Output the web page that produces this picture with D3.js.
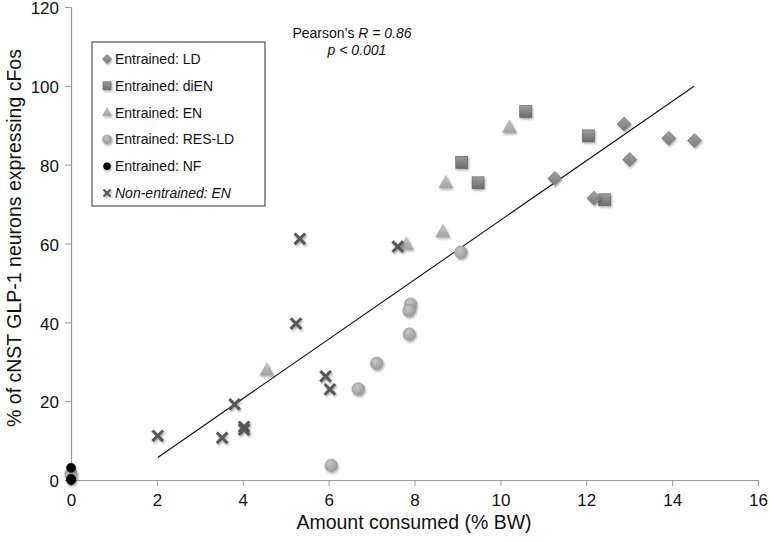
<!DOCTYPE html>
<html><head><meta charset="utf-8">
<script src="https://cdn.jsdelivr.net/npm/d3@7"></script>
<style>body{margin:0;background:#fff}svg{display:block}text{font-family:"Liberation Sans",Arial,Helvetica,sans-serif}</style>
</head><body><svg id="c" width="769" height="542"></svg>
<script>
// ---- data ----
const xTicks = [0,2,4,6,8,10,12,14,16];
const yTicks = [0,20,40,60,80,100,120];
const seriesNames = ["Entrained: LD","Entrained: diEN","Entrained: EN","Entrained: RES-LD","Entrained: NF","Non-entrained: EN"];
const ldX = [11.27,12.18,12.88,13.92,14.52,13.01];
const ldY = [76.5,71.5,90.3,86.7,86.1,81.3];
const dienX = [10.59,12.05,9.10,9.48,12.43];
const dienY = [93.5,87.3,80.6,75.4,71.1];
const enX = [10.21,8.73,8.66,7.81,4.56];
const enY = [89.4,75.3,62.9,59.7,27.8];
const resX = [7.91,7.87,7.88,7.12,6.69,6.06,9.08,0];
const resY = [44.6,43.0,37.0,29.6,23.1,3.7,57.8,1.5];
const nfX = [0,0,0];
const nfY = [3.1,0.3,0];
const nonX = [5.33,7.61,5.24,5.93,6.03,3.81,4.03,4.03,3.52,2.02];
const nonY = [61.2,59.2,39.7,26.3,23.0,19.2,13.5,12.8,10.7,11.2];
const fitX = [2.02,14.51];
const fitY = [5.7,99.9];

const svg = d3.select("#c");
const x = d3.scaleLinear().domain([0,16]).range([71,758]);
const y = d3.scaleLinear().domain([0,120]).range([480,7]);

const defs = svg.append("defs");
const f = defs.append("filter").attr("id","sh").attr("x","-50%").attr("y","-50%").attr("width","200%").attr("height","200%");
f.append("feDropShadow").attr("dx",1).attr("dy",1.5).attr("stdDeviation",1.2).attr("flood-color","#000").attr("flood-opacity",0.35);
function grad(id,c1,c2){const g=defs.append("linearGradient").attr("id",id).attr("x1",0).attr("y1",0).attr("x2",0).attr("y2",1);
 g.append("stop").attr("offset","0%").attr("stop-color",c1);g.append("stop").attr("offset","100%").attr("stop-color",c2);}
grad("gD","#a0a0a0","#7a7a7a");
grad("gS","#9c9c9c","#6c6c6c");
grad("gT","#c8c8c8","#a2a2a2");
const rg=defs.append("radialGradient").attr("id","gC").attr("cx","40%").attr("cy","35%").attr("r","65%");
rg.append("stop").attr("offset","0%").attr("stop-color","#c6c6c6");rg.append("stop").attr("offset","100%").attr("stop-color","#9a9a9a");

// axes
const ax = svg.append("g").attr("transform","translate(0,480)").call(d3.axisBottom(x).tickValues(xTicks).tickSize(6).tickPadding(8).tickFormat(d3.format("d")));
const ay = svg.append("g").attr("transform","translate(71,0)").call(d3.axisLeft(y).tickValues(yTicks).tickSize(6).tickPadding(6).tickFormat(d3.format("d")));
[ax,ay].forEach(a=>{a.select(".domain").attr("stroke","#999").attr("stroke-width",1.2);
 a.selectAll(".tick line").attr("stroke","#999");
 a.selectAll(".tick text").attr("fill","#111").style("font-size","17px").style("font-family","'Liberation Sans',Arial,sans-serif");});
ay.selectAll(".tick text").attr("dy","0.4em");

svg.append("text").attr("x",414).attr("y",529).attr("text-anchor","middle").style("font-size","19.5px").attr("fill","#111").text("Amount consumed (% BW)");
svg.append("text").attr("transform","translate(21,238) rotate(-90)").attr("text-anchor","middle").style("font-size","19.5px").attr("fill","#111").text("% of cNST GLP-1 neurons expressing cFos");

// fit line
svg.append("line").attr("x1",x(fitX[0])).attr("y1",y(fitY[0])).attr("x2",x(fitX[1])).attr("y2",y(fitY[1])).attr("stroke","#111").attr("stroke-width",1.1);

// marker drawers
function diamond(g,cx,cy,s){g.append("path").attr("d",`M${cx},${cy-s}L${cx+s},${cy}L${cx},${cy+s}L${cx-s},${cy}Z`).attr("fill","url(#gD)").attr("stroke","#707070").attr("stroke-width",0.6).attr("filter","url(#sh)");}
function square(g,cx,cy,s){g.append("rect").attr("x",cx-s).attr("y",cy-s).attr("width",2*s).attr("height",2*s).attr("fill","url(#gS)").attr("stroke","#636363").attr("stroke-width",0.6).attr("filter","url(#sh)");}
function tri(g,cx,cy,s){g.append("path").attr("d",`M${cx},${cy-s*1.1}L${cx+s},${cy+s*0.7}L${cx-s},${cy+s*0.7}Z`).attr("fill","url(#gT)").attr("stroke","#a0a0a0").attr("stroke-width",0.5).attr("filter","url(#sh)");}
function circ(g,cx,cy,r,fill,stroke){g.append("circle").attr("cx",cx).attr("cy",cy).attr("r",r).attr("fill",fill).attr("stroke",stroke).attr("stroke-width",0.6).attr("filter","url(#sh)");}
function cross(g,cx,cy,s,w){g.append("path").attr("d",`M${cx-s},${cy-s}L${cx+s},${cy+s}M${cx-s},${cy+s}L${cx+s},${cy-s}`).attr("stroke","#585858").attr("stroke-width",w).attr("fill","none").attr("filter","url(#sh)");}

const pts = svg.append("g");
resX.forEach((v,i)=>circ(pts,x(v),y(resY[i]),6.3,"url(#gC)","#999"));
nfX.forEach((v,i)=>circ(pts,x(v),y(nfY[i]),4.5,"#000","#000"));
enX.forEach((v,i)=>tri(pts,x(v),y(enY[i]),7));
dienX.forEach((v,i)=>square(pts,x(v),y(dienY[i]),6));
ldX.forEach((v,i)=>diamond(pts,x(v),y(ldY[i]),7));
nonX.forEach((v,i)=>cross(pts,x(v),y(nonY[i]),5.3,3));

// annotation
const ann = svg.append("text").attr("x",352).attr("y",38).attr("text-anchor","middle").style("font-size","14px").attr("fill","#111");
ann.append("tspan").text("Pearson\u2019s ");
ann.append("tspan").style("font-style","italic").text("R = 0.86");
svg.append("text").attr("x",357).attr("y",55).attr("text-anchor","middle").style("font-size","14px").style("font-style","italic").attr("fill","#111").text("p < 0.001");

// legend
const lg = svg.append("g");
lg.append("rect").attr("x",92).attr("y",42).attr("width",173).attr("height",164).attr("fill","#fff").attr("stroke","#333").attr("stroke-width",1);
const markerFns = [
 (g,cx,cy)=>diamond(g,cx,cy,4.5),
 (g,cx,cy)=>square(g,cx,cy,4),
 (g,cx,cy)=>tri(g,cx,cy,4.5),
 (g,cx,cy)=>circ(g,cx,cy,4.5,"url(#gC)","#999"),
 (g,cx,cy)=>circ(g,cx,cy,3.5,"#000","#000"),
 (g,cx,cy)=>cross(g,cx,cy,3.5,2.2)
];
seriesNames.forEach((n,i)=>{
 const cy = 59 + i*26.8;
 markerFns[i](lg,107,cy);
 const t = lg.append("text").attr("x",115).attr("y",cy+5).style("font-size","14px").attr("fill","#111").text(n);
 if(i===5) t.style("font-style","italic");
});
</script></body></html>
